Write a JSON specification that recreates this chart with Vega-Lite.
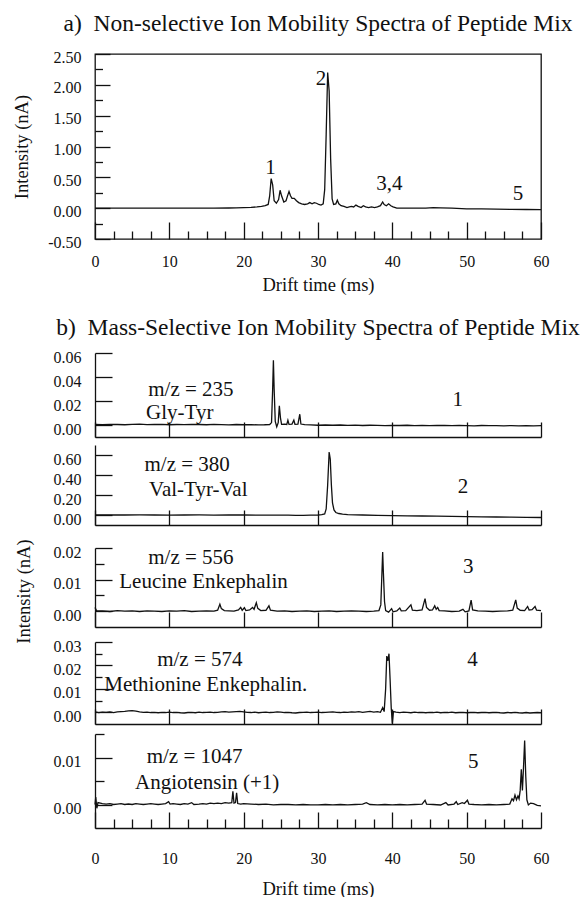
{
  "$schema": "https://vega.github.io/schema/vega-lite/v6.json",
  "background": "white",
  "padding": {"left": 12, "top": 10, "right": 0, "bottom": 0},
  "config": {
    "font": "Liberation Serif",
    "view": {"stroke": null},
    "axis": {"domainColor": "#111", "tickColor": "#111", "domainWidth": 1.3, "tickWidth": 1.3, "labelFont": "Liberation Serif", "titleFont": "Liberation Serif", "labelFontSize": 16, "titleFontSize": 18.5, "labelColor": "#111", "titleColor": "#111", "titleFontWeight": "normal", "grid": false, "labelFlush": false, "labelOverlap": false},
    "title": {"font": "Liberation Serif", "fontSize": 23.5, "fontWeight": "normal", "color": "#111", "anchor": "middle"},
    "text": {"font": "Liberation Serif", "fontSize": 21, "color": "#111"},
    "line": {"color": "#111", "strokeWidth": 1.3}
  },
  "datasets": {
    "a": [
      {"t":0,"i":0.0},{"t":2,"i":0.0},{"t":4,"i":0.001},{"t":6,"i":0.0},{"t":8,"i":0.0},{"t":10,"i":0.001},{"t":12,"i":0.0},{"t":14,"i":0.001},{"t":16,"i":0.002},{"t":18,"i":0.003},{"t":19,"i":0.005},{"t":20,"i":0.008},{"t":21,"i":0.012},{"t":21.8,"i":0.02},{"t":22.4,"i":0.03},{"t":22.9,"i":0.04},{"t":23.3,"i":0.06},{"t":23.5,"i":0.2},{"t":23.7,"i":0.48},{"t":23.9,"i":0.38},{"t":24.1,"i":0.12},{"t":24.4,"i":0.08},{"t":24.7,"i":0.14},{"t":24.9,"i":0.29},{"t":25.1,"i":0.2},{"t":25.4,"i":0.1},{"t":25.7,"i":0.12},{"t":25.9,"i":0.2},{"t":26.1,"i":0.27},{"t":26.3,"i":0.2},{"t":26.5,"i":0.16},{"t":26.8,"i":0.16},{"t":27.1,"i":0.12},{"t":27.4,"i":0.09},{"t":27.8,"i":0.07},{"t":28.2,"i":0.06},{"t":28.6,"i":0.07},{"t":28.9,"i":0.09},{"t":29.2,"i":0.07},{"t":29.5,"i":0.09},{"t":29.8,"i":0.08},{"t":30.1,"i":0.06},{"t":30.4,"i":0.05},{"t":30.7,"i":0.07},{"t":30.9,"i":0.3},{"t":31.1,"i":1.2},{"t":31.3,"i":2.2},{"t":31.5,"i":1.9},{"t":31.7,"i":0.8},{"t":31.9,"i":0.15},{"t":32.1,"i":0.06},{"t":32.4,"i":0.07},{"t":32.6,"i":0.13},{"t":32.8,"i":0.07},{"t":33.1,"i":0.04},{"t":33.5,"i":0.03},{"t":33.9,"i":0.01},{"t":34.2,"i":0.02},{"t":34.5,"i":0.03},{"t":34.8,"i":0.02},{"t":35.1,"i":0.05},{"t":35.4,"i":0.03},{"t":35.8,"i":0.01},{"t":36.1,"i":0.04},{"t":36.4,"i":0.02},{"t":36.8,"i":0.01},{"t":37.2,"i":0.02},{"t":37.6,"i":0.01},{"t":38,"i":0.02},{"t":38.4,"i":0.04},{"t":38.7,"i":0.1},{"t":38.9,"i":0.06},{"t":39.2,"i":0.04},{"t":39.5,"i":0.07},{"t":39.8,"i":0.04},{"t":40.1,"i":0.02},{"t":40.6,"i":0.0},{"t":41.5,"i":0.0},{"t":43,"i":0.0},{"t":44.5,"i":0.0},{"t":45.5,"i":0.01},{"t":46.5,"i":0.005},{"t":48,"i":0.0},{"t":50,"i":-0.01},{"t":52,"i":-0.012},{"t":54,"i":-0.015},{"t":56,"i":-0.02},{"t":58,"i":-0.022},{"t":60,"i":-0.025}
    ],
    "aLab": [
      {"t":23.6,"i":0.65,"label":"1"},{"t":30.4,"i":2.1,"label":"2"},{"t":39.6,"i":0.39,"label":"3,4"},{"t":56.9,"i":0.23,"label":"5"}
    ],
    "b1": [
      {"t":0,"i":0.0005},{"t":1,"i":0.0003},{"t":2,"i":0.0006},{"t":3,"i":0.0004},{"t":4,"i":0.0002},{"t":5,"i":0.0005},{"t":6,"i":0.0007},{"t":7,"i":0.0003},{"t":8,"i":0.0004},{"t":9,"i":0.0006},{"t":10,"i":0.0002},{"t":11,"i":0.0004},{"t":12,"i":0.0003},{"t":13,"i":0.0006},{"t":14,"i":0.0004},{"t":15,"i":0.0002},{"t":16,"i":0.0005},{"t":17,"i":0.0003},{"t":18,"i":0.0001},{"t":19,"i":0.0004},{"t":20,"i":0.0002},{"t":21,"i":0.0003},{"t":22,"i":0.0001},{"t":22.8,"i":0.0002},{"t":23.5,"i":0.0004},{"t":23.75,"i":0.002},{"t":23.9,"i":0.03},{"t":24.0,"i":0.054},{"t":24.1,"i":0.03},{"t":24.25,"i":0.003},{"t":24.45,"i":-0.0015},{"t":24.65,"i":0.002},{"t":24.8,"i":0.016},{"t":24.95,"i":0.006},{"t":25.1,"i":0.0005},{"t":25.5,"i":0.0008},{"t":25.8,"i":0.0005},{"t":25.95,"i":0.004},{"t":26.1,"i":0.0005},{"t":26.5,"i":0.0008},{"t":26.75,"i":0.004},{"t":26.9,"i":0.0006},{"t":27.3,"i":0.0008},{"t":27.55,"i":0.009},{"t":27.7,"i":0.0008},{"t":28.2,"i":0.0003},{"t":29,"i":0.0001},{"t":30,"i":-0.0002},{"t":31,"i":0.0},{"t":32,"i":-0.0002},{"t":33,"i":0.0},{"t":34,"i":-0.0003},{"t":35,"i":-0.0001},{"t":36,"i":-0.0004},{"t":37,"i":-0.0002},{"t":38,"i":-0.0003},{"t":39,"i":-0.0005},{"t":40,"i":-0.0003},{"t":41,"i":-0.0004},{"t":42,"i":-0.0002},{"t":43,"i":-0.0005},{"t":44,"i":-0.0003},{"t":45,"i":-0.0006},{"t":46,"i":-0.0004},{"t":47,"i":-0.0003},{"t":48,"i":-0.0006},{"t":49,"i":-0.0004},{"t":50,"i":-0.0005},{"t":51,"i":-0.0007},{"t":52,"i":-0.0004},{"t":53,"i":-0.0006},{"t":54,"i":-0.0005},{"t":55,"i":-0.0007},{"t":56,"i":-0.0005},{"t":57,"i":-0.0008},{"t":58,"i":-0.0006},{"t":59,"i":-0.0007},{"t":60,"i":-0.0006}
    ],
    "b1Lab": [
      {"t":12.9,"i":0.0294,"label":"m/z = 235"},{"t":11.4,"i":0.010,"label":"Gly-Tyr"},{"t":48.8,"i":0.0208,"label":"1"}
    ],
    "b2": [
      {"t":0,"i":0.0},{"t":2,"i":0.002},{"t":4,"i":0.0},{"t":6,"i":0.001},{"t":8,"i":0.0},{"t":10,"i":-0.001},{"t":12,"i":0.0},{"t":14,"i":0.001},{"t":16,"i":-0.001},{"t":18,"i":0.0},{"t":20,"i":0.0},{"t":22,"i":-0.002},{"t":24,"i":-0.001},{"t":26,"i":-0.002},{"t":27,"i":-0.003},{"t":28,"i":-0.003},{"t":29,"i":-0.002},{"t":30,"i":0.0},{"t":30.5,"i":0.003},{"t":30.9,"i":0.01},{"t":31.1,"i":0.06},{"t":31.3,"i":0.3},{"t":31.5,"i":0.63},{"t":31.65,"i":0.56},{"t":31.8,"i":0.3},{"t":31.95,"i":0.12},{"t":32.15,"i":0.05},{"t":32.4,"i":0.025},{"t":32.8,"i":0.015},{"t":33.3,"i":0.008},{"t":34,"i":0.004},{"t":35,"i":0.002},{"t":36,"i":0.0},{"t":38,"i":-0.003},{"t":40,"i":-0.006},{"t":42,"i":-0.008},{"t":44,"i":-0.01},{"t":46,"i":-0.012},{"t":48,"i":-0.014},{"t":50,"i":-0.016},{"t":52,"i":-0.018},{"t":54,"i":-0.02},{"t":56,"i":-0.022},{"t":58,"i":-0.024},{"t":60,"i":-0.025}
    ],
    "b2Lab": [
      {"t":12.4,"i":0.5,"label":"m/z = 380"},{"t":13.9,"i":0.25,"label":"Val-Tyr-Val"},{"t":49.5,"i":0.28,"label":"2"}
    ],
    "b3": [
      {"t":0,"i":0.0012},{"t":0.2,"i":0.0002},{"t":1,"i":0.0001},{"t":2,"i":-0.0001},{"t":3,"i":0.0002},{"t":4,"i":0.0},{"t":5,"i":0.0001},{"t":6,"i":-0.0001},{"t":7,"i":0.0001},{"t":8,"i":0.0},{"t":9,"i":-0.0001},{"t":10,"i":0.0001},{"t":11,"i":0.0},{"t":12,"i":0.0002},{"t":13,"i":-0.0001},{"t":14,"i":0.0},{"t":15,"i":0.0001},{"t":16,"i":0.0},{"t":16.5,"i":0.0003},{"t":16.8,"i":0.0022},{"t":17.0,"i":0.0008},{"t":17.4,"i":0.0002},{"t":18,"i":0.0001},{"t":18.7,"i":0.0},{"t":19.3,"i":0.0004},{"t":19.6,"i":0.0012},{"t":19.8,"i":0.0003},{"t":20.1,"i":0.0011},{"t":20.3,"i":0.0002},{"t":20.8,"i":0.0004},{"t":21.2,"i":0.0012},{"t":21.4,"i":0.0006},{"t":21.7,"i":0.0027},{"t":21.9,"i":0.0009},{"t":22.3,"i":0.0002},{"t":23.0,"i":0.0003},{"t":23.4,"i":0.0017},{"t":23.6,"i":0.0003},{"t":24.5,"i":0.0},{"t":25.5,"i":0.0001},{"t":26.5,"i":-0.0001},{"t":27.5,"i":0.0},{"t":28.5,"i":0.0001},{"t":29.5,"i":-0.0001},{"t":30.5,"i":0.0},{"t":31.5,"i":0.0001},{"t":32.5,"i":-0.0001},{"t":33.5,"i":0.0},{"t":34.5,"i":0.0001},{"t":35.5,"i":0.0},{"t":36.5,"i":-0.0001},{"t":37.5,"i":0.0},{"t":38.2,"i":0.0002},{"t":38.45,"i":0.002},{"t":38.6,"i":0.012},{"t":38.7,"i":0.0187},{"t":38.8,"i":0.012},{"t":38.95,"i":0.003},{"t":39.1,"i":0.0002},{"t":39.5,"i":-0.0003},{"t":39.9,"i":0.0008},{"t":40.1,"i":-0.0002},{"t":40.6,"i":0.0001},{"t":41.0,"i":0.001},{"t":41.2,"i":0.0001},{"t":41.8,"i":0.0002},{"t":42.5,"i":0.002},{"t":42.7,"i":0.0003},{"t":43.3,"i":0.0002},{"t":44.0,"i":0.0004},{"t":44.4,"i":0.004},{"t":44.6,"i":0.0012},{"t":45.0,"i":0.0003},{"t":45.4,"i":0.0004},{"t":45.7,"i":0.0017},{"t":45.9,"i":0.0006},{"t":46.1,"i":0.0012},{"t":46.3,"i":0.0002},{"t":47,"i":0.0001},{"t":48,"i":-0.0001},{"t":49,"i":0.0},{"t":49.5,"i":0.0006},{"t":49.8,"i":-0.0002},{"t":50.3,"i":0.0001},{"t":50.6,"i":0.0035},{"t":50.8,"i":0.0004},{"t":51.5,"i":0.0001},{"t":52.5,"i":0.0},{"t":53.5,"i":-0.0001},{"t":54.5,"i":0.0},{"t":55.5,"i":0.0001},{"t":56.2,"i":0.0003},{"t":56.6,"i":0.0036},{"t":56.8,"i":0.001},{"t":57.2,"i":0.0003},{"t":57.8,"i":0.0002},{"t":58.2,"i":0.0015},{"t":58.4,"i":0.0004},{"t":58.8,"i":0.0005},{"t":59.2,"i":0.0015},{"t":59.4,"i":0.0003},{"t":60,"i":0.0002}
    ],
    "b3Lab": [
      {"t":12.9,"i":0.0169,"label":"m/z = 556"},{"t":14.6,"i":0.0091,"label":"Leucine Enkephalin"},{"t":50.2,"i":0.0141,"label":"3"}
    ],
    "b4": [
      {"t":0,"i":0.0002},{"t":0.5,"i":-0.0001},{"t":1,"i":0.0001},{"t":1.5,"i":0.0},{"t":2,"i":0.0002},{"t":2.5,"i":-0.0001},{"t":3,"i":0.0002},{"t":3.5,"i":0.0003},{"t":4,"i":0.0004},{"t":4.5,"i":0.0006},{"t":5,"i":0.0007},{"t":5.5,"i":0.0005},{"t":6,"i":0.0002},{"t":6.5,"i":0.0},{"t":7,"i":0.0001},{"t":7.5,"i":-0.0001},{"t":8,"i":0.0},{"t":8.5,"i":-0.0002},{"t":9,"i":0.0},{"t":9.5,"i":-0.0001},{"t":10,"i":0.0001},{"t":10.5,"i":-0.0001},{"t":11,"i":0.0},{"t":11.5,"i":-0.0002},{"t":12,"i":-0.0003},{"t":12.5,"i":-0.0001},{"t":13,"i":0.0},{"t":13.5,"i":-0.0002},{"t":14,"i":0.0001},{"t":14.5,"i":-0.0001},{"t":15,"i":0.0},{"t":15.5,"i":0.0001},{"t":16,"i":-0.0001},{"t":16.5,"i":0.0},{"t":17,"i":0.0002},{"t":17.5,"i":0.0003},{"t":18,"i":0.0001},{"t":18.5,"i":0.0002},{"t":19,"i":0.0003},{"t":19.5,"i":0.0004},{"t":20,"i":0.0002},{"t":20.5,"i":0.0},{"t":21,"i":-0.0001},{"t":21.5,"i":0.0001},{"t":22,"i":-0.0002},{"t":22.5,"i":0.0},{"t":23,"i":0.0001},{"t":23.5,"i":-0.0001},{"t":24,"i":0.0},{"t":24.5,"i":0.0002},{"t":25,"i":0.0001},{"t":25.5,"i":-0.0001},{"t":26,"i":0.0},{"t":26.5,"i":-0.0002},{"t":27,"i":-0.0003},{"t":27.5,"i":-0.0001},{"t":28,"i":0.0},{"t":28.5,"i":0.0001},{"t":29,"i":-0.0001},{"t":29.5,"i":0.0},{"t":30,"i":0.0001},{"t":30.5,"i":-0.0001},{"t":31,"i":0.0},{"t":31.5,"i":0.0001},{"t":32,"i":0.0002},{"t":32.5,"i":0.0},{"t":33,"i":-0.0001},{"t":33.5,"i":0.0001},{"t":34,"i":0.0},{"t":34.5,"i":0.0002},{"t":35,"i":0.0001},{"t":35.5,"i":0.0003},{"t":36,"i":0.0},{"t":36.5,"i":0.0002},{"t":37,"i":0.0004},{"t":37.5,"i":0.0001},{"t":38,"i":0.0003},{"t":38.4,"i":0.0},{"t":38.7,"i":0.002},{"t":38.9,"i":0.0003},{"t":39.1,"i":0.01},{"t":39.25,"i":0.024},{"t":39.4,"i":0.022},{"t":39.55,"i":0.025},{"t":39.7,"i":0.014},{"t":39.85,"i":0.002},{"t":40.0,"i":-0.0048},{"t":40.15,"i":0.0003},{"t":40.5,"i":0.0001},{"t":41,"i":-0.0001},{"t":41.5,"i":0.0001},{"t":42,"i":0.0},{"t":42.5,"i":-0.0002},{"t":43,"i":0.0001},{"t":43.5,"i":-0.0001},{"t":44,"i":0.0},{"t":44.5,"i":-0.0002},{"t":45,"i":0.0},{"t":45.5,"i":-0.0001},{"t":46,"i":0.0001},{"t":46.5,"i":-0.0002},{"t":47,"i":0.0},{"t":47.5,"i":-0.0001},{"t":48,"i":0.0001},{"t":48.5,"i":-0.0002},{"t":49,"i":-0.0001},{"t":49.5,"i":0.0},{"t":50,"i":-0.0002},{"t":50.5,"i":-0.0001},{"t":51,"i":0.0},{"t":51.5,"i":-0.0002},{"t":52,"i":-0.0001},{"t":52.5,"i":0.0},{"t":53,"i":-0.0002},{"t":53.5,"i":-0.0001},{"t":54,"i":0.0},{"t":54.5,"i":-0.0002},{"t":55,"i":-0.0003},{"t":55.5,"i":-0.0001},{"t":56,"i":-0.0002},{"t":56.5,"i":0.0},{"t":57,"i":-0.0002},{"t":57.5,"i":-0.0003},{"t":58,"i":-0.0001},{"t":58.5,"i":-0.0003},{"t":59,"i":-0.0002},{"t":59.5,"i":-0.0001},{"t":60,"i":-0.0002}
    ],
    "b4Lab": [
      {"t":14.1,"i":0.0223,"label":"m/z = 574"},{"t":14.9,"i":0.0116,"label":"Methionine Enkephalin."},{"t":50.8,"i":0.0223,"label":"4"}
    ],
    "b5": [
      {"t":0,"i":0.0},{"t":0.1,"i":0.0016},{"t":0.25,"i":-0.0008},{"t":0.4,"i":0.0004},{"t":1,"i":0.0002},{"t":1.5,"i":0.0001},{"t":2,"i":0.0002},{"t":2.5,"i":0.0},{"t":3,"i":0.0001},{"t":3.5,"i":0.0002},{"t":4,"i":0.0},{"t":4.5,"i":0.0001},{"t":5,"i":0.0},{"t":5.5,"i":0.0002},{"t":6,"i":0.0001},{"t":6.5,"i":0.0},{"t":7,"i":0.0001},{"t":7.5,"i":0.0002},{"t":8,"i":0.0001},{"t":8.5,"i":0.0},{"t":9,"i":0.0001},{"t":9.5,"i":0.0002},{"t":9.9,"i":0.0006},{"t":10.1,"i":0.0001},{"t":10.5,"i":0.0002},{"t":11,"i":0.0001},{"t":11.5,"i":0.0},{"t":12,"i":0.0002},{"t":12.5,"i":0.0001},{"t":13,"i":0.0004},{"t":13.3,"i":0.0},{"t":14,"i":0.0001},{"t":14.5,"i":0.0002},{"t":15,"i":0.0001},{"t":15.5,"i":0.0003},{"t":16,"i":0.0002},{"t":16.5,"i":0.0003},{"t":17,"i":0.0002},{"t":17.5,"i":0.0004},{"t":18,"i":0.0003},{"t":18.4,"i":0.0004},{"t":18.55,"i":0.0028},{"t":18.7,"i":0.0003},{"t":18.9,"i":0.0004},{"t":19.05,"i":0.0025},{"t":19.2,"i":0.0002},{"t":19.6,"i":0.0001},{"t":20,"i":0.0002},{"t":21,"i":0.0001},{"t":22,"i":0.0},{"t":23,"i":0.0001},{"t":24,"i":-0.0001},{"t":25,"i":0.0},{"t":26,"i":0.0},{"t":27,"i":-0.0001},{"t":28,"i":0.0},{"t":29,"i":-0.0001},{"t":30,"i":-0.0001},{"t":31,"i":0.0},{"t":32,"i":-0.0001},{"t":33,"i":0.0},{"t":34,"i":-0.0001},{"t":35,"i":0.0},{"t":36,"i":0.0001},{"t":36.5,"i":0.0004},{"t":37,"i":0.0},{"t":38,"i":-0.0001},{"t":39,"i":0.0},{"t":40,"i":-0.0001},{"t":41,"i":0.0},{"t":42,"i":-0.0001},{"t":43,"i":0.0},{"t":44,"i":0.0001},{"t":44.4,"i":0.0009},{"t":44.6,"i":0.0001},{"t":45.5,"i":0.0},{"t":46.5,"i":-0.0001},{"t":47.2,"i":0.0004},{"t":47.5,"i":-0.0001},{"t":48.3,"i":0.0001},{"t":48.6,"i":0.0006},{"t":48.8,"i":0.0},{"t":49.4,"i":0.0004},{"t":49.7,"i":0.0002},{"t":50.1,"i":0.0009},{"t":50.3,"i":0.0001},{"t":51,"i":0.0},{"t":52,"i":-0.0001},{"t":53,"i":0.0},{"t":54,"i":-0.0001},{"t":55,"i":0.0},{"t":55.8,"i":0.0001},{"t":56.1,"i":0.0012},{"t":56.3,"i":0.0008},{"t":56.5,"i":0.002},{"t":56.7,"i":0.001},{"t":56.9,"i":0.0018},{"t":57.05,"i":0.0012},{"t":57.2,"i":0.003},{"t":57.35,"i":0.0075},{"t":57.5,"i":0.003},{"t":57.65,"i":0.008},{"t":57.8,"i":0.0136},{"t":57.95,"i":0.006},{"t":58.1,"i":0.001},{"t":58.3,"i":-0.0001},{"t":58.6,"i":0.0003},{"t":59,"i":0.0002},{"t":59.5,"i":-0.0002},{"t":60,"i":-0.0003}
    ],
    "b5Lab": [
      {"t":13.4,"i":0.0102,"label":"m/z = 1047"},{"t":15.1,"i":0.0046,"label":"Angiotensin (+1)"},{"t":50.9,"i":0.009,"label":"5"}
    ]
  },
  "spacing": 20,
  "vconcat": [
    {
      "title": {"text": "a)\u2002Non-selective Ion Mobility Spectra of Peptide Mix", "offset": 14, "anchor": "middle"},
      "width": 446,
      "height": 185,
      "view": {"stroke": "#111", "strokeWidth": 1.3},
      "layer": [
        {
          "data": {"name": "a"},
          "mark": {"type": "line"},
          "encoding": {
            "x": {"field": "t", "type": "quantitative", "scale": {"domain": [0, 60], "nice": false}, "axis": {"orient": "bottom", "values": [0, 10, 20, 30, 40, 50, 60], "tickSize": -17, "labelPadding": 31, "domain": false, "title": "Drift time (ms)", "titlePadding": 6}},
            "y": {"field": "i", "type": "quantitative", "scale": {"domain": [-0.5, 2.5], "nice": false, "zero": false}, "axis": {"orient": "left", "values": [-0.5, 0, 0.5, 1, 1.5, 2, 2.5], "tickSize": -15, "labelPadding": 29, "labelOffset": 3, "format": ".2f", "labelExpr": "replace(datum.label, '\u2212', '-')", "domain": false, "title": "Intensity (nA)", "titlePadding": 16}}
          }
        },
        {
          "data": {"name": "aLab"},
          "mark": {"type": "text", "baseline": "middle"},
          "encoding": {
            "x": {"field": "t", "type": "quantitative", "axis": {"orient": "bottom", "values": [2.5, 5, 7.5, 12.5, 15, 17.5, 22.5, 25, 27.5, 32.5, 35, 37.5, 42.5, 45, 47.5, 52.5, 55, 57.5], "tickSize": -8, "labels": false, "domain": false, "title": null}},
            "y": {"field": "i", "type": "quantitative", "axis": {"orient": "left", "values": [-0.25, 0.25, 0.75, 1.25, 1.75, 2.25], "tickSize": -7.5, "labels": false, "domain": false, "title": null}},
            "text": {"field": "label"}
          }
        }
      ],
      "resolve": {"axis": {"x": "independent", "y": "independent"}}
    },
    {
      "title": {"text": "Intensity (nA)", "orient": "left", "anchor": "middle", "fontSize": 18.5, "offset": 20, "dx": 15},
      "spacing": 17,
      "vconcat": [
        {
          "spacing": 7,
          "vconcat": [
            {
              "title": {"text": "b)\u2002Mass-Selective Ion Mobility Spectra of Peptide Mix", "offset": 10, "anchor": "middle"},
              "width": 446,
              "height": 84,
              "layer": [
                {
                  "data": {"name": "b1"},
                  "mark": {"type": "line"},
                  "encoding": {
                    "x": {"field": "t", "type": "quantitative", "scale": {"domain": [0, 60], "nice": false}, "axis": {"values": [0, 10, 20, 30, 40, 50, 60], "tickSize": -15, "labels": false, "title": null}},
                    "y": {"field": "i", "type": "quantitative", "scale": {"domain": [-0.01, 0.06], "nice": false, "zero": false}, "axis": {"orient": "left", "values": [0, 0.02, 0.04, 0.06], "tickSize": -17, "labelPadding": 31, "labelOffset": 4, "format": ".2f", "title": null}}
                  }
                },
                {
                  "data": {"name": "b1Lab"},
                  "mark": {"type": "text", "baseline": "middle"},
                  "encoding": {
                    "x": {"field": "t", "type": "quantitative"},
                    "y": {"field": "i", "type": "quantitative", "axis": null},
                    "text": {"field": "label"}
                  }
                }
              ],
              "resolve": {"axis": {"y": "independent"}}
            },
            {
              "width": 446,
              "height": 80,
              "layer": [
                {
                  "data": {"name": "b2"},
                  "mark": {"type": "line"},
                  "encoding": {
                    "x": {"field": "t", "type": "quantitative", "scale": {"domain": [0, 60], "nice": false}, "axis": {"values": [0, 10, 20, 30, 40, 50, 60], "tickSize": -15, "labels": false, "title": null}},
                    "y": {"field": "i", "type": "quantitative", "scale": {"domain": [-0.1, 0.7], "nice": false, "zero": false}, "axis": {"orient": "left", "values": [0, 0.2, 0.4, 0.6], "tickSize": -17, "labelPadding": 31, "labelOffset": 4, "format": ".2f", "title": null}}
                  }
                },
                {
                  "data": {"name": "b2Lab"},
                  "mark": {"type": "text", "baseline": "middle"},
                  "encoding": {
                    "x": {"field": "t", "type": "quantitative"},
                    "y": {"field": "i", "type": "quantitative", "axis": null},
                    "text": {"field": "label"}
                  }
                }
              ],
              "resolve": {"axis": {"y": "independent"}}
            }
          ]
        },
        {
          "spacing": 10,
          "vconcat": [
            {
              "width": 446,
              "height": 79,
              "layer": [
                {
                  "data": {"name": "b3"},
                  "mark": {"type": "line"},
                  "encoding": {
                    "x": {"field": "t", "type": "quantitative", "scale": {"domain": [0, 60], "nice": false}, "axis": {"values": [0, 10, 20, 30, 40, 50, 60], "tickSize": -15, "labels": false, "title": null}},
                    "y": {"field": "i", "type": "quantitative", "scale": {"domain": [-0.005, 0.02], "nice": false, "zero": false}, "axis": {"orient": "left", "values": [0, 0.01, 0.02], "tickSize": -17, "labelPadding": 31, "labelOffset": 4, "format": ".2f", "title": null}}
                  }
                },
                {
                  "data": {"name": "b3Lab"},
                  "mark": {"type": "text", "baseline": "middle"},
                  "encoding": {
                    "x": {"field": "t", "type": "quantitative"},
                    "y": {"field": "i", "type": "quantitative", "axis": {"orient": "left", "values": [0.005, 0.015], "tickSize": -9, "labels": false, "domain": false, "title": null}},
                    "text": {"field": "label"}
                  }
                }
              ],
              "resolve": {"axis": {"y": "independent"}}
            },
            {
              "spacing": 6,
              "vconcat": [
                {
                  "width": 446,
                  "height": 82,
                  "layer": [
                    {
                      "data": {"name": "b4"},
                      "mark": {"type": "line"},
                      "encoding": {
                        "x": {"field": "t", "type": "quantitative", "scale": {"domain": [0, 60], "nice": false}, "axis": {"values": [0, 10, 20, 30, 40, 50, 60], "tickSize": -15, "labels": false, "title": null}},
                        "y": {"field": "i", "type": "quantitative", "scale": {"domain": [-0.005, 0.03], "nice": false, "zero": false}, "axis": {"orient": "left", "values": [0, 0.01, 0.02, 0.03], "tickSize": -17, "labelPadding": 31, "labelOffset": 4, "format": ".2f", "title": null}}
                      }
                    },
                    {
                      "data": {"name": "b4Lab"},
                      "mark": {"type": "text", "baseline": "middle"},
                      "encoding": {
                        "x": {"field": "t", "type": "quantitative"},
                        "y": {"field": "i", "type": "quantitative", "axis": {"orient": "left", "values": [0.005, 0.015, 0.025], "tickSize": -7, "labels": false, "domain": false, "title": null}},
                        "text": {"field": "label"}
                      }
                    }
                  ],
                  "resolve": {"axis": {"y": "independent"}}
                },
                {
                  "width": 446,
                  "height": 94,
                  "layer": [
                    {
                      "data": {"name": "b5"},
                      "mark": {"type": "line"},
                      "encoding": {
                        "x": {"field": "t", "type": "quantitative", "scale": {"domain": [0, 60], "nice": false}, "axis": {"orient": "bottom", "values": [0, 10, 20, 30, 40, 50, 60], "tickSize": -16, "labelPadding": 38, "title": "Drift time (ms)", "titlePadding": 13}},
                        "y": {"field": "i", "type": "quantitative", "scale": {"domain": [-0.005, 0.015], "nice": false, "zero": false}, "axis": {"orient": "left", "values": [0, 0.01], "tickSize": -17, "labelPadding": 31, "labelOffset": 4, "format": ".2f", "title": null}}
                      }
                    },
                    {
                      "data": {"name": "b5Lab"},
                      "mark": {"type": "text", "baseline": "middle"},
                      "encoding": {
                        "x": {"field": "t", "type": "quantitative", "axis": {"orient": "bottom", "values": [2.5, 5, 7.5, 12.5, 15, 17.5, 22.5, 25, 27.5, 32.5, 35, 37.5, 42.5, 45, 47.5, 52.5, 55, 57.5], "tickSize": -9, "labels": false, "domain": false, "title": null}},
                        "y": {"field": "i", "type": "quantitative", "axis": {"orient": "left", "values": [0.005, 0.015], "tickSize": -9, "labels": false, "domain": false, "title": null}},
                        "text": {"field": "label"}
                      }
                    }
                  ],
                  "resolve": {"axis": {"x": "independent", "y": "independent"}}
                }
              ]
            }
          ]
        }
      ]
    }
  ]
}
